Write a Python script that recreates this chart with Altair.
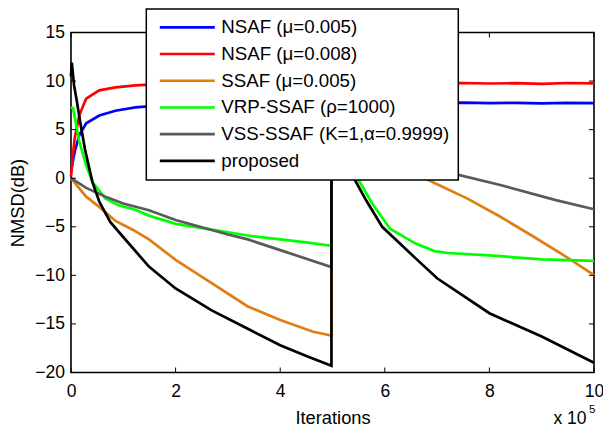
import altair as alt
import pandas as pd

SERIES = ["NSAF (μ=0.005)", "NSAF (μ=0.008)", "SSAF (μ=0.005)",
          "VRP-SSAF (ρ=1000)", "VSS-SSAF (K=1,α=0.9999)", "proposed"]
COLORS = ["#0000FF", "#FF0000", "#DE7F12", "#00FF00", "#5A5A5A", "#000000"]

XTICKS = [0, 2, 4, 6, 8, 10]
YTICKS = [-20, -15, -10, -5, 0, 5, 10, 15]

# iterations in units of 1e5, NMSD in dB
nsaf1_x = [0, 0.03, 0.07, 0.16, 0.29, 0.54, 0.85, 1.23, 1.6, 2.0, 2.5, 3.0, 4.0, 5.0,
           6.0, 7.0, 7.5, 8.0, 8.5, 9.0, 9.5, 10.0]
nsaf1_y = [0.6, 1.6, 2.7, 4.45, 5.65, 6.45, 6.95, 7.3, 7.45, 7.55, 7.62, 7.67, 7.72, 7.75,
           7.75, 7.74, 7.78, 7.72, 7.76, 7.7, 7.75, 7.74]

nsaf2_x = [0, 0.03, 0.07, 0.16, 0.29, 0.54, 0.85, 1.23, 1.6, 2.0, 3.0, 4.0, 5.0,
           6.0, 7.0, 7.5, 8.0, 8.5, 9.0, 9.5, 10.0]
nsaf2_y = [0.2, 2.0, 4.1, 6.5, 8.2, 9.05, 9.35, 9.55, 9.65, 9.7, 9.75, 9.77, 9.78,
           9.77, 9.78, 9.8, 9.75, 9.78, 9.72, 9.8, 9.77]

ssaf_x = [0, 0.29, 0.55, 0.85, 1.18, 1.49, 2.0, 2.69, 3.38, 4.0, 4.63, 4.98,
          4.98, 5.5, 6.0, 6.4, 6.77, 6.95, 7.58, 8.21, 8.84, 9.47, 10.0]
ssaf_y = [0, -1.9, -3.0, -4.4, -5.3, -6.3, -8.4, -10.8, -13.2, -14.6, -15.8, -16.2,
          6.0, 4.3, 2.6, 1.2, 0.0, -0.5, -2.1, -3.97, -6.0, -8.1, -9.97]

vrp_x = [0, 0.04, 0.16, 0.29, 0.41, 0.66, 0.92, 1.23, 1.49, 2.0, 2.75, 3.38, 4.0, 4.5, 4.98,
         4.98, 5.02, 5.16, 5.3, 5.48, 5.76, 6.1, 6.58, 6.95, 7.2, 8.0, 9.0, 10.0]
vrp_y = [7.3, 7.2, 3.75, 1.35, -0.4, -2.1, -2.8, -3.25, -3.85, -4.7, -5.35, -5.9, -6.3, -6.6, -6.95,
         7.3, 7.0, 3.8, 1.5, 0.0, -2.6, -5.2, -6.7, -7.5, -7.7, -7.95, -8.35, -8.5]

vss_x = [0, 0.29, 0.66, 1.0, 1.49, 2.0, 3.0, 3.38, 4.0, 4.98,
         4.98, 5.5, 6.3, 7.33, 8.21, 9.27, 10.0]
vss_y = [0, -1.0, -1.9, -2.6, -3.3, -4.3, -5.8, -6.3, -7.4, -9.15,
         4.5, 2.8, 1.6, 0.45, -0.7, -2.25, -3.2]

prop_x = [0, 0.015, 0.06, 0.11, 0.175, 0.27, 0.41, 0.54, 0.75, 0.99, 1.49, 2.0, 2.69, 3.38, 4.0, 4.5, 4.98,
          4.98, 5.0, 5.04, 5.09, 5.16, 5.25, 5.41, 5.64, 5.95, 6.58, 7.0, 8.0, 9.0, 10.0]
prop_y = [10.5, 11.9, 9.5, 8.0, 5.8, 2.9, -0.4, -2.4, -4.5, -6.0, -9.1, -11.35, -13.6, -15.5, -17.2, -18.3, -19.3,
          10.5, 11.9, 9.5, 8.0, 5.8, 2.9, 0.0, -2.25, -5.0, -8.2, -10.3, -13.9, -16.3, -19.0]

DATA = [(nsaf1_x, nsaf1_y), (nsaf2_x, nsaf2_y), (ssaf_x, ssaf_y),
        (vrp_x, vrp_y), (vss_x, vss_y), (prop_x, prop_y)]

FONT = "Liberation Sans"
W, H = 523, 340

xsc = alt.Scale(domain=[0, 10], nice=False, zero=False)
ysc = alt.Scale(domain=[-20, 15], nice=False, zero=False)
csc = alt.Scale(domain=SERIES, range=COLORS)

xaxis = alt.Axis(values=XTICKS, title="Iterations", grid=False, domain=False, ticks=False,
                 tickSize=0, labelFlush=False, labelOverlap=False, labelPadding=24,
                 labelBaseline="alphabetic", labelFontSize=17.5, labelColor="black",
                 titleFontSize=18.3, titleFontWeight="normal", titleColor="black",
                 titleBaseline="alphabetic", titleY=50.5)
yaxis = alt.Axis(values=YTICKS, title="NMSD(dB)", grid=False, domain=False, ticks=False,
                 tickSize=0, labelOverlap=False, labelPadding=6.5, labelFontSize=17.5,
                 labelColor="black", titleFontSize=18.3, titleFontWeight="normal",
                 titleColor="black", titleBaseline="alphabetic", titleAngle=270,
                 titleAlign="center", titleX=-47.5, titleY=H / 2)

legend = alt.Legend(title=None, orient="none", legendX=75.3, legendY=-23.5,
                    fillColor="white", strokeColor="black", padding=9,
                    symbolType="stroke", symbolSize=3025, symbolStrokeWidth=2.6,
                    symbolOffset=3, labelOffset=5, clipHeight=18.7, rowPadding=6.7,
                    labelFontSize=18.7, labelLimit=400, labelColor="black", labelFont=FONT)

layers = []
for k, (name, (xs, ys)) in enumerate(zip(SERIES, DATA)):
    df = pd.DataFrame({"x": xs, "y": ys, "i": list(range(len(xs))), "series": [name] * len(xs)})
    layers.append(
        alt.Chart(df).mark_line(strokeWidth=2.7).encode(
            x=alt.X("x:Q", scale=xsc, axis=xaxis),
            y=alt.Y("y:Q", scale=ysc, axis=yaxis),
            order="i:Q",
            color=alt.Color("series:N", scale=csc, legend=legend),
        )
    )

xt = pd.DataFrame({"t": XTICKS})
yt = pd.DataFrame({"t": YTICKS})
layers.append(alt.Chart(xt).mark_rule(color="black", strokeWidth=1).encode(
    x=alt.X("t:Q", scale=xsc, axis=xaxis), y=alt.value(H), y2=alt.value(H - 5)))
layers.append(alt.Chart(xt).mark_rule(color="black", strokeWidth=1).encode(
    x=alt.X("t:Q", scale=xsc, axis=xaxis), y=alt.value(0), y2=alt.value(5)))
layers.append(alt.Chart(yt).mark_rule(color="black", strokeWidth=1).encode(
    y=alt.Y("t:Q", scale=ysc, axis=yaxis), x=alt.value(0), x2=alt.value(5)))
layers.append(alt.Chart(yt).mark_rule(color="black", strokeWidth=1).encode(
    y=alt.Y("t:Q", scale=ysc, axis=yaxis), x=alt.value(W), x2=alt.value(W - 5)))

layers.append(alt.Chart(pd.DataFrame({"t": ["x 10"]})).mark_text(
    align="right", baseline="alphabetic", fontSize=17.5, dx=-7.5, color="black", font=FONT).encode(
    x=alt.XDatum(10, scale=xsc, axis=xaxis), y=alt.value(391), text="t:N"))
layers.append(alt.Chart(pd.DataFrame({"t": ["5"]})).mark_text(
    align="left", baseline="alphabetic", fontSize=11.5, dx=-5, color="black", font=FONT).encode(
    x=alt.XDatum(10, scale=xsc, axis=xaxis), y=alt.value(380.5), text="t:N"))

chart = alt.layer(*layers).properties(
    width=W, height=H,
    autosize=alt.AutoSizeParams(type="none"),
    padding={"left": 63, "top": 24.5, "right": 9, "bottom": 54.5},
).configure(font=FONT).configure_view(stroke="black", strokeWidth=1.6).configure_legend(strokeWidth=1.5)

chart.save("out.html", embed_options={"renderer": "svg", "actions": False})
